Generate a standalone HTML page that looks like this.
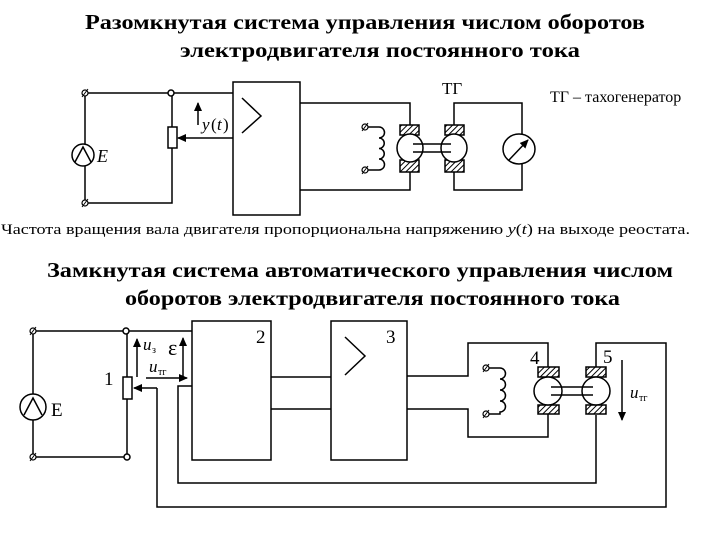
<!DOCTYPE html>
<html><head><meta charset="utf-8"><style>
html,body{margin:0;padding:0;background:#fff;width:720px;height:540px;overflow:hidden}
svg{display:block}
text{font-family:"Liberation Serif",serif;fill:#000}
</style></head><body>
<svg width="720" height="540" viewBox="0 0 720 540" xmlns="http://www.w3.org/2000/svg">
<defs>
<pattern id="h" width="4" height="4" patternUnits="userSpaceOnUse" patternTransform="rotate(45)">
<rect width="4" height="4" fill="#fff"/><line x1="0" y1="0" x2="0" y2="4" stroke="#000" stroke-width="2"/></pattern>
<marker id="a" markerWidth="9" markerHeight="8" refX="8" refY="4" orient="auto" markerUnits="userSpaceOnUse"><path d="M0,0 L9,4 L0,8 z" fill="#000"/></marker>
</defs>
<g font-weight="bold" font-size="21">
<text x="85" y="29" textLength="560" lengthAdjust="spacingAndGlyphs">Разомкнутая система управления числом оборотов</text>
<text x="180" y="57" textLength="400" lengthAdjust="spacingAndGlyphs">электродвигателя постоянного тока</text>
<text x="47" y="277" textLength="626" lengthAdjust="spacingAndGlyphs">Замкнутая система автоматического управления числом</text>
<text x="125" y="305" textLength="495" lengthAdjust="spacingAndGlyphs">оборотов электродвигателя постоянного тока</text>
</g>
<text x="1" y="234" font-size="15" textLength="689" lengthAdjust="spacingAndGlyphs">Частота вращения вала двигателя пропорциональна напряжению <tspan font-style="italic">y</tspan>(<tspan font-style="italic">t</tspan>) на выходе реостата.</text>

<g stroke="#000" stroke-width="1.5" fill="none">
<!-- top diagram -->
<path d="M85,93 H233 M85,93 V203 H172 V93"/>
<circle cx="171" cy="93" r="3" fill="#fff"/>
<rect x="168" y="127" width="9" height="21" fill="#fff"/>
<path d="M233,138 H178" marker-end="url(#a)"/>
<path d="M198,125 V103" marker-end="url(#a)"/>
<circle cx="83" cy="155" r="11" fill="#fff"/>
<path d="M75,162 L83,147 L91,162"/>
<rect x="233" y="82" width="67" height="133"/>
<path d="M242,98 L261,116 L242,133"/>
<path d="M300,103 H410 V125 M300,190 H410 V172"/>
<path d="M365,127 H379 a5,5 0 0 1 0,11 a5,5 0 0 1 0,10.5 a5,5 0 0 1 0,10.5 a5,5 0 0 1 0,11 H365"/>
<rect x="400" y="125" width="19" height="10" fill="url(#h)"/>
<rect x="400" y="160" width="19" height="12" fill="url(#h)"/>
<ellipse cx="410" cy="148" rx="13" ry="14" fill="#fff"/>
<rect x="445" y="125" width="19" height="10" fill="url(#h)"/>
<rect x="445" y="160" width="19" height="12" fill="url(#h)"/>
<ellipse cx="454" cy="148" rx="13" ry="14" fill="#fff"/>
<path d="M413,144 H451 M413,152 H451"/>
<path d="M454,125 V103 H522 V190 H454 V172"/>
<ellipse cx="519" cy="149" rx="16" ry="15" fill="#fff"/>
<path d="M509,160 L528,140" marker-end="url(#a)"/>

<!-- bottom diagram -->
<path d="M33,331 H192 M33,331 V457 H127 V331"/>
<circle cx="126" cy="331" r="3" fill="#fff"/>
<circle cx="127" cy="457" r="3" fill="#fff"/>
<rect x="123" y="377" width="9" height="22" fill="#fff"/>
<circle cx="33" cy="407" r="13" fill="#fff"/>
<path d="M24,415 L33,398 L42,415"/>
<path d="M157,388 H134" marker-end="url(#a)"/>
<path d="M157,388 V507 H666 V343 H596 V368"/>
<path d="M192,386 H178 V483 H596 V415"/>
<path d="M137,377 V339" marker-end="url(#a)"/>
<path d="M183,377 V338" marker-end="url(#a)"/>
<path d="M146,378 H187" marker-end="url(#a)"/>
<rect x="192" y="321" width="79" height="139"/>
<rect x="331" y="321" width="76" height="139"/>
<path d="M345,337 L365,356 L345,375"/>
<path d="M271,377 H331 M271,409 H331"/>
<path d="M407,376 H468 V343 H548 V367 M407,409 H468 V437 H548 V413"/>
<path d="M486,368 H500 a5.5,5.5 0 0 1 0,11 a5.5,5.5 0 0 1 0,11 a5.5,5.5 0 0 1 0,11 a5.5,5.5 0 0 1 0,11 V414 H486"/>
<rect x="538" y="367" width="21" height="10" fill="url(#h)"/>
<rect x="538" y="405" width="21" height="9" fill="url(#h)"/>
<ellipse cx="548" cy="391" rx="14" ry="14" fill="#fff"/>
<rect x="586" y="367" width="20" height="10" fill="url(#h)"/>
<rect x="586" y="405" width="20" height="9" fill="url(#h)"/>
<ellipse cx="596" cy="391" rx="14" ry="14" fill="#fff"/>
<path d="M551,387 H593 M551,395 H593"/>
<path d="M622,360 V420" marker-end="url(#a)"/>
</g>
<g stroke="#000" stroke-width="1.2" fill="#fff">
<circle cx="85" cy="93" r="3"/><circle cx="85" cy="203" r="3"/>
<circle cx="365" cy="127" r="3"/><circle cx="365" cy="170" r="3"/>
<circle cx="33" cy="331" r="3"/><circle cx="33" cy="457" r="3"/>
<circle cx="486" cy="368" r="3"/><circle cx="486" cy="414" r="3"/>
</g>
<g stroke="#000" stroke-width="1">
<path d="M82,97 L88,89 M82,207 L88,199 M362,131 L368,123 M362,174 L368,166 M30,335 L36,327 M30,461 L36,453 M483,372 L489,364 M483,418 L489,410"/>
</g>
<g font-size="16">
<text x="97" y="162" font-style="italic" font-size="18">E</text>
<text x="202" y="130" font-style="italic" font-size="17">y</text><text x="211" y="130" font-size="17">(</text><text x="217" y="130" font-style="italic" font-size="17">t</text><text x="223" y="130" font-size="17">)</text>
<text x="442" y="94" font-size="17">ТГ</text>
<text x="550" y="102">ТГ – тахогенератор</text>
<text x="51" y="416" font-size="19">E</text>
<text x="104" y="385" font-size="19">1</text>
<text x="256" y="343" font-size="19">2</text>
<text x="386" y="343" font-size="19">3</text>
<text x="530" y="364" font-size="19">4</text>
<text x="603" y="363" font-size="19">5</text>
<text x="143" y="350" font-style="italic" font-size="17">u</text><text x="152" y="353" font-size="10">з</text>
<text x="168" y="355" font-size="22">ε</text>
<text x="149" y="372" font-style="italic" font-size="17">u</text><text x="158" y="375" font-size="10">тг</text>
<text x="630" y="398" font-style="italic" font-size="17">u</text><text x="639" y="401" font-size="10">тг</text>
</g>
</svg>
</body></html>
